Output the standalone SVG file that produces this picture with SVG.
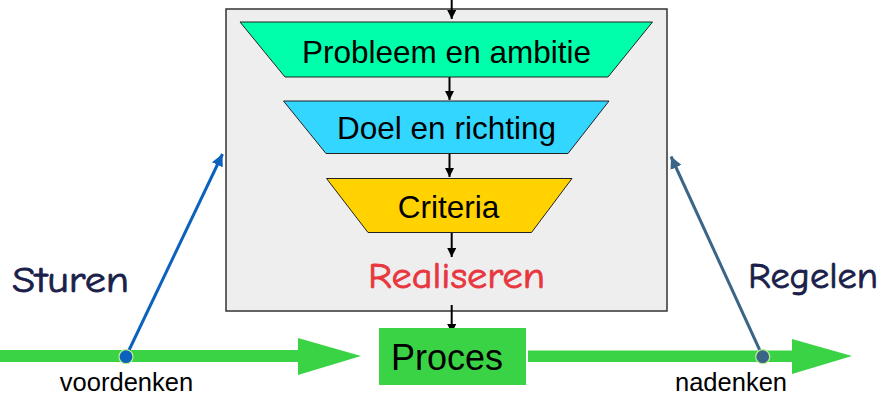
<svg xmlns="http://www.w3.org/2000/svg" width="885" height="396" viewBox="0 0 885 396">
<style>
.sans{font-family:"Liberation Sans",Arial,sans-serif;fill:#000}
.comic{font-family:"Comic Sans MS","Comic Neue","Open Sans",sans-serif;stroke-width:0.8}
.trap{stroke:#222;stroke-width:1}
.blk{stroke:#000;stroke-width:2;fill:none}
.green{fill:#3bd346}
</style>
<defs>
<marker id="ah" markerUnits="userSpaceOnUse" markerWidth="9" markerHeight="10" refX="9" refY="4.5" orient="auto">
<path d="M0,0 L9,4.5 L0,9 Z" fill="#000"/>
</marker>
<marker id="ahBlue" markerUnits="userSpaceOnUse" markerWidth="14" markerHeight="12" refX="12" refY="6" orient="auto">
<path d="M0,0 L12,6 L0,12 Z" fill="#0b62bd"/>
</marker>
<marker id="ahSteel" markerUnits="userSpaceOnUse" markerWidth="14" markerHeight="12" refX="12" refY="6" orient="auto">
<path d="M0,0 L12,6 L0,12 Z" fill="#3a6587"/>
</marker>
</defs>
<rect width="885" height="396" fill="#fff"/>

<g id="container">
<rect x="226" y="9" width="441" height="302" fill="#eeeeee" stroke="#333" stroke-width="1.5"/>
</g>

<g id="main-flow">
<rect class="green" x="0" y="350" width="299" height="12"/>
<polygon class="green" points="298,338 361,356 298,375"/>
<rect class="green" x="528" y="350.5" width="265" height="11.5"/>
<polygon class="green" points="792,339 852,356 792,374"/>
</g>

<g id="connectors">
<line class="blk" x1="451.7" y1="0" x2="451.7" y2="19" marker-end="url(#ah)"/>
<line class="blk" x1="449.5" y1="77" x2="449.5" y2="100" marker-end="url(#ah)"/>
<line class="blk" x1="449.5" y1="154" x2="449.5" y2="177" marker-end="url(#ah)"/>
<line class="blk" x1="451.7" y1="232.5" x2="451.7" y2="257" marker-end="url(#ah)"/>
<line class="blk" x1="451.7" y1="305" x2="451.7" y2="333" marker-end="url(#ah)"/>
<line x1="126" y1="356.5" x2="222.5" y2="154" stroke="#0b62bd" stroke-width="3" marker-end="url(#ahBlue)"/>
<line x1="762.7" y1="356.5" x2="671" y2="156.5" stroke="#3a6587" stroke-width="3" marker-end="url(#ahSteel)"/>
</g>

<g id="probleem">
<polygon class="trap" points="240,22 652.5,22 608,77 285,77" fill="#00ffaa"/>
<text class="sans" x="446.5" y="63" font-size="31.5" text-anchor="middle">Probleem en ambitie</text>
</g>

<g id="doel">
<polygon class="trap" points="283.5,101 609,101 568,153.5 326,153.5" fill="#33d6ff"/>
<text class="sans" x="446.5" y="139" font-size="31.5" text-anchor="middle">Doel en richting</text>
</g>

<g id="criteria">
<polygon class="trap" points="326.5,178.5 572,178.5 531.5,232.5 368,232.5" fill="#ffd200"/>
<text class="sans" x="448.5" y="217.5" font-size="31.5" text-anchor="middle">Criteria</text>
</g>

<g id="realiseren">
<text class="comic" x="456.5" y="288" font-size="37" fill="#e8373e" stroke="#e8373e" text-anchor="middle" textLength="177" lengthAdjust="spacingAndGlyphs">Realiseren</text>
</g>

<g id="proces">
<rect class="green" x="379" y="328" width="147" height="57"/>
<text class="sans" x="447" y="370" font-size="36" text-anchor="middle">Proces</text>
</g>

<g id="sturen">
<text class="comic" x="12" y="291.5" font-size="37" fill="#1b1f4b" stroke="#1b1f4b" textLength="117" lengthAdjust="spacingAndGlyphs">Sturen</text>
<circle cx="126" cy="356.7" r="7" fill="#0b62bd" stroke="#b9ee8f" stroke-width="1.2"/>
<text class="sans" x="126.5" y="391" font-size="25.5" text-anchor="middle">voordenken</text>
</g>

<g id="regelen">
<text class="comic" x="748" y="288" font-size="37" fill="#1b1f4b" stroke="#1b1f4b" textLength="130" lengthAdjust="spacingAndGlyphs">Regelen</text>
<circle cx="762.7" cy="356.7" r="7" fill="#3a6587" stroke="#b9ee8f" stroke-width="1.2"/>
<text class="sans" x="731" y="391" font-size="25.5" text-anchor="middle">nadenken</text>
</g>
</svg>
